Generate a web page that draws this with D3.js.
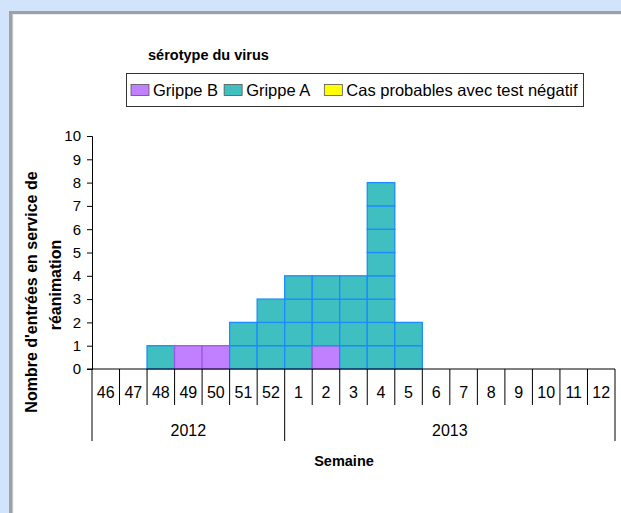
<!DOCTYPE html>
<html>
<head>
<meta charset="utf-8">
<script src="https://cdn.jsdelivr.net/npm/d3@7"></script>
<style>
  html, body { margin: 0; padding: 0; background: #d2e3fc; }
  svg { display: block; font-family: "Liberation Sans", Arial, sans-serif; }
</style>
</head>
<body>
<svg id="chart" width="621" height="513"></svg>
<script>
// semaines (axe x) et années
const weeks = ['46', '47', '48', '49', '50', '51', '52', '1', '2', '3', '4', '5', '6', '7', '8', '9', '10', '11', '12'];
const years = ['2012', '2013'];
const weeksPerYear = [7, 12];

// nombre de cas par semaine
const grippeB = [0, 0, 0, 1, 1, 0, 0, 0, 1, 0, 0, 0, 0, 0, 0, 0, 0, 0, 0];
const grippeA = [0, 0, 1, 0, 0, 2, 3, 4, 3, 4, 8, 2, 0, 0, 0, 0, 0, 0, 0];
const casProbables = [0, 0, 0, 0, 0, 0, 0, 0, 0, 0, 0, 0, 0, 0, 0, 0, 0, 0, 0];

const yTicks = [0, 1, 2, 3, 4, 5, 6, 7, 8, 9, 10];

const series = [
    {name: 'Grippe B', values: grippeB, fill: '#c080ff', stroke: '#9a5ce6'},
    {name: 'Grippe A', values: grippeA, fill: '#40bfc0', stroke: '#1a8cff'},
    {name: 'Cas probables avec test négatif', values: casProbables, fill: '#ffff00', stroke: '#333'}
];

const svg = d3.select('#chart');

// cadre
svg.append('rect').attr('x', 9).attr('y', 11).attr('width', 612).attr('height', 502).attr('fill', '#a0a0a0');
svg.append('rect').attr('x', 12.5).attr('y', 14).attr('width', 609).attr('height', 499).attr('fill', '#e4ecf8');
svg.append('rect').attr('x', 13.5).attr('y', 15).attr('width', 608).attr('height', 498).attr('fill', '#fff');

const x = d3.scaleBand().domain(weeks).range([92, 615]).padding(0);
const y = d3.scaleLinear().domain([0, 10]).range([369, 136]);

// une case par cas, empilées
const cells = [];
weeks.forEach((w, i) => {
    let level = 0;
    series.forEach(s => {
        for (let k = 0; k < s.values[i]; k++) {
            cells.push({week: w, y0: level, y1: level + 1, s});
            level++;
        }
    });
});

svg.append('g')
    .selectAll('rect')
    .data(cells)
    .join('rect')
    .attr('x', d => x(d.week))
    .attr('width', x.bandwidth())
    .attr('y', d => y(d.y1))
    .attr('height', d => y(d.y0) - y(d.y1))
    .attr('fill', d => d.s.fill)
    .attr('stroke', d => d.s.stroke)
    .attr('stroke-width', 1.3);

// axe y
const yAxis = svg.append('g')
    .attr('transform', `translate(${x.range()[0]},0)`)
    .call(d3.axisLeft(y).tickValues(yTicks).tickSize(5).tickPadding(6).tickFormat(d3.format('d')));
yAxis.select('.domain').attr('stroke', '#000');
yAxis.selectAll('.tick line').attr('stroke', '#000');
yAxis.selectAll('text').attr('font-size', 15).attr('fill', '#000').attr('font-family', '"Liberation Sans", Arial, sans-serif');

// axe x
const ax = svg.append('g');
ax.append('line')
    .attr('x1', x.range()[0] - 5).attr('x2', x.range()[1])
    .attr('y1', y(0)).attr('y2', y(0))
    .attr('stroke', '#000');

const yearStarts = [0, weeksPerYear[0]];
const boundaries = d3.range(weeks.length + 1);
ax.selectAll('line.sep')
    .data(boundaries)
    .join('line')
    .attr('class', 'sep')
    .attr('x1', i => x.range()[0] + i * x.step())
    .attr('x2', i => x.range()[0] + i * x.step())
    .attr('y1', y(0))
    .attr('y2', i => (i === 0 || i === weeks.length || yearStarts.includes(i)) ? 441 : 405)
    .attr('stroke', '#000');

ax.selectAll('text.week')
    .data(weeks)
    .join('text')
    .attr('class', 'week')
    .attr('x', d => x(d) + x.bandwidth() / 2)
    .attr('y', 397.5)
    .attr('text-anchor', 'middle')
    .attr('font-size', 16)
    .text(d => d);

ax.selectAll('text.year')
    .data(years)
    .join('text')
    .attr('class', 'year')
    .attr('x', (d, i) => x.range()[0] + (yearStarts[i] + weeksPerYear[i] / 2) * x.step())
    .attr('y', 435.5)
    .attr('text-anchor', 'middle')
    .attr('font-size', 16)
    .text(d => d);

svg.append('text')
    .attr('x', 344).attr('y', 466)
    .attr('text-anchor', 'middle')
    .attr('font-size', 14.5).attr('font-weight', 'bold')
    .text('Semaine');

// titre axe y
const yTitle = svg.append('g').attr('font-size', 16).attr('font-weight', 'bold').attr('text-anchor', 'middle');
yTitle.append('text').attr('transform', 'translate(37,292) rotate(-90)').text("Nombre d'entrées en service de");
yTitle.append('text').attr('transform', 'translate(61,285) rotate(-90)').text('réanimation');

// titre + légende
svg.append('text')
    .attr('x', 148).attr('y', 60)
    .attr('font-size', 14.5).attr('font-weight', 'bold')
    .text('sérotype du virus');

const legend = svg.append('g');
legend.append('rect')
    .attr('x', 126.5).attr('y', 73.5).attr('width', 457).attr('height', 33)
    .attr('fill', '#fff').attr('stroke', '#333');

let lx = 131;
series.forEach((s, i) => {
    legend.append('rect')
        .attr('x', lx).attr('y', 84.5).attr('width', 18).attr('height', 11)
        .attr('fill', s.fill).attr('stroke', '#555').attr('stroke-width', 0.8);
    const t = legend.append('text')
        .attr('x', lx + 22).attr('y', 96)
        .attr('font-size', 16.5)
        .text(s.name);
    lx += 22 + t.node().getComputedTextLength() + (i === 0 ? 6 : 14);
});
</script>
</body>
</html>
